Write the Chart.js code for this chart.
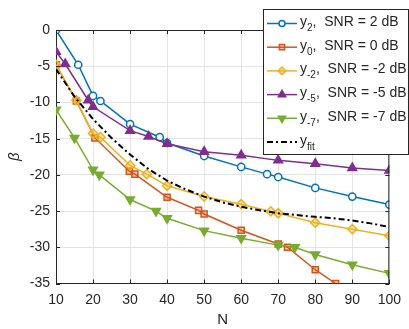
<!DOCTYPE html>
<html><head><meta charset="utf-8">
<script src="https://cdn.jsdelivr.net/npm/chart.js@4/dist/chart.umd.min.js"></script>
<style>html,body{margin:0;padding:0;background:#fff}#wrap{width:409px;height:329px;position:relative}</style>
</head><body><div id="wrap"><canvas id="c" width="409" height="329"></canvas></div>
<script>
// ---- data ----
const xTicks = [10,20,30,40,50,60,70,80,90,100];
const yTicks = [0,-5,-10,-15,-20,-25,-30,-35];

const y2X  = [10,16,20,22,30,38,40,50,60,67,70,80,90,100];
const y2Y  = [0,-4.8,-9.1,-9.8,-13.0,-14.8,-15.6,-17.4,-18.9,-19.9,-20.3,-21.8,-23.0,-24.1];

const y0X  = [10,15.5,20.5,29.8,31.3,40,48.5,50,60,70,72.5,80,85.5];
const y0Y  = [-4.8,-9.8,-14.9,-19.5,-19.9,-23.1,-24.9,-25.4,-27.65,-29.55,-30.0,-33.1,-35.0];

const ym2X = [10,15.5,20,22,30,34.5,40,50,60,68,70,80,90,100];
const ym2Y = [-4.8,-9.7,-14.3,-14.8,-18.7,-19.9,-21.5,-23.0,-24.05,-25.05,-25.3,-26.6,-27.5,-28.4];

const ym5X = [10,12.5,18.7,20,30,35,40,50,60,70,80,90,100];
const ym5Y = [-3.0,-4.7,-9.7,-10.6,-13.9,-14.7,-15.7,-16.8,-17.3,-18.0,-18.45,-19.05,-19.4];

const ym7X = [10,15,20,21.7,30,37,40,50,60,70,74.5,80,90,100];
const ym7Y = [-11.0,-14.9,-19.3,-20.0,-23.4,-25.0,-26.0,-27.7,-28.75,-29.7,-30.0,-31.0,-32.4,-33.6];

const fitX = [10,15,20,25,30,35,40,45,50,55,60,65,70,75,80,85,90,95,100];
const fitY = [-5.4,-9.2,-12.3,-14.9,-17.2,-19.2,-20.8,-22.0,-23.0,-23.8,-24.4,-24.9,-25.3,-25.55,-25.8,-26.0,-26.3,-26.7,-27.2];

const seriesSubs = ['2','0','-2','-5','-7','fit'];
const seriesSNR  = ['SNR = 2 dB','SNR = 0 dB','SNR = -2 dB','SNR = -5 dB','SNR = -7 dB',''];

// ---- styles ----
const FONT = "'Liberation Sans', Arial, sans-serif";
const AXC = '#262626';
const pts = (xs, ys) => xs.map((x, i) => ({x, y: ys[i]}));

const ds = [
  {data: pts(y2X,y2Y),   color:'#0072BD', fill:'#ffffff',              style:'circle',  r:3.6, rot:0,   order:6},
  {data: pts(y0X,y0Y),   color:'#D95319', fill:'rgba(217,83,25,0.3)', style:'rect',    r:4.3, rot:0,   order:5},
  {data: pts(ym2X,ym2Y), color:'#EDB120', fill:'rgba(237,177,32,0.3)',style:'rectRot', r:4.6, rot:0,   order:4},
  {data: pts(ym5X,ym5Y), color:'#7E2F8E', fill:'#7E2F8E',              style:'triangle',r:5,   rot:0,   order:3},
  {data: pts(ym7X,ym7Y), color:'#77AC30', fill:'#77AC30',              style:'triangle',r:5,   rot:180, order:2},
  {data: pts(fitX,fitY), color:'#000000', fill:'#000000',              style:false,     r:0,   rot:0,   order:1, dash:[6,3,2,3]}
];

const datasets = ds.map((d, i) => ({
  label: 'y' + seriesSubs[i],
  data: d.data,
  borderColor: d.color,
  backgroundColor: d.fill,
  borderWidth: d.dash ? 2 : 1.5,
  borderDash: d.dash || [],
  pointStyle: d.style,
  pointRadius: d.r,
  pointRotation: d.rot,
  pointBorderWidth: 1.5,
  pointBorderColor: d.color,
  pointBackgroundColor: d.fill,
  pointHoverRadius: d.r,
  tension: 0,
  order: d.order
}));

const frame = {
  id: 'frame',
  afterDraw(chart) {
    const {ctx, chartArea: a, scales: {x, y}} = chart;
    ctx.save();
    ctx.strokeStyle = AXC;
    ctx.lineWidth = 1;
    ctx.beginPath();
    // top and right box lines
    ctx.moveTo(a.left, a.top + 0.5); ctx.lineTo(a.right, a.top + 0.5);
    ctx.moveTo(a.right - 0.5, a.top); ctx.lineTo(a.right - 0.5, a.bottom);
    // inward ticks
    xTicks.forEach(v => {
      const px = Math.round(x.getPixelForValue(v)) + 0.5;
      ctx.moveTo(px, a.bottom); ctx.lineTo(px, a.bottom - 4);
      ctx.moveTo(px, a.top); ctx.lineTo(px, a.top + 4);
    });
    yTicks.forEach(v => {
      const py = Math.round(y.getPixelForValue(v)) + 0.5;
      ctx.moveTo(a.left, py); ctx.lineTo(a.left + 4, py);
      ctx.moveTo(a.right, py); ctx.lineTo(a.right - 4, py);
    });
    ctx.stroke();

    // legend
    const L = 263.5, T = 9.5, W = 145, H = 145;
    ctx.fillStyle = '#fff';
    ctx.fillRect(L, T, W, H);
    ctx.strokeStyle = AXC;
    ctx.strokeRect(L, T, W, H);
    ds.forEach((d, i) => {
      const ly = 23.5 + i * 23.7;
      ctx.save();
      ctx.strokeStyle = d.color;
      ctx.lineWidth = d.dash ? 2 : 1.5;
      ctx.setLineDash(d.dash || []);
      ctx.beginPath(); ctx.moveTo(267, ly); ctx.lineTo(297, ly); ctx.stroke();
      ctx.setLineDash([]);
      if (d.style) {
        ctx.fillStyle = d.fill;
        ctx.strokeStyle = d.color;
        ctx.lineWidth = 1.5;
        Chart.helpers.drawPoint(ctx, {pointStyle: d.style, radius: d.r * 0.85, rotation: d.rot, borderWidth: 1.5}, 282, ly);
      }
      ctx.restore();
      ctx.fillStyle = AXC;
      ctx.textBaseline = 'alphabetic';
      ctx.textAlign = 'left';
      let tx = 300;
      ctx.font = '14px ' + FONT;
      ctx.fillText('y', tx, ly + 2.5);
      tx += ctx.measureText('y').width;
      ctx.font = '10px ' + FONT;
      ctx.fillText(seriesSubs[i], tx, ly + 7.5);
      tx += ctx.measureText(seriesSubs[i]).width;
      if (seriesSNR[i]) {
        ctx.font = '14px ' + FONT;
        ctx.fillText(',  ' + seriesSNR[i], tx, ly + 2.5);
      }
    });
    ctx.restore();
  }
};

new Chart(document.getElementById('c'), {
  type: 'line',
  data: {datasets},
  plugins: [frame],
  options: {
    responsive: false,
    animation: false,
    events: [],
    layout: {padding: {left: 0, right: 15.5, top: 30, bottom: 0}},
    plugins: {legend: {display: false}, tooltip: {enabled: false}},
    scales: {
      x: {
        type: 'linear', min: 10, max: 100,
        afterFit(s) { s.height = 45.5; },
        afterBuildTicks(s) { s.ticks = xTicks.map(v => ({value: v})); },
        grid: {color: '#e3e3e3', drawTicks: false},
        border: {color: AXC, width: 1},
        ticks: {color: AXC, font: {family: FONT, size: 14}, padding: 8, maxRotation: 0},
        title: {display: true, text: 'N', color: AXC, font: {family: FONT, size: 15}, padding: {top: 0, bottom: 0}}
      },
      y: {
        type: 'linear', min: -35, max: 0,
        afterFit(s) { s.width = 56; },
        afterBuildTicks(s) { s.ticks = yTicks.slice().reverse().map(v => ({value: v})); },
        grid: {color: '#e3e3e3', drawTicks: false},
        border: {color: AXC, width: 1},
        ticks: {color: AXC, font: {family: FONT, size: 14}, padding: 6},
        title: {display: true, text: 'β', color: AXC, font: {family: FONT, size: 15, style: 'italic'}, padding: {top: 6, bottom: 0}}
      }
    }
  }
});
</script></body></html>
